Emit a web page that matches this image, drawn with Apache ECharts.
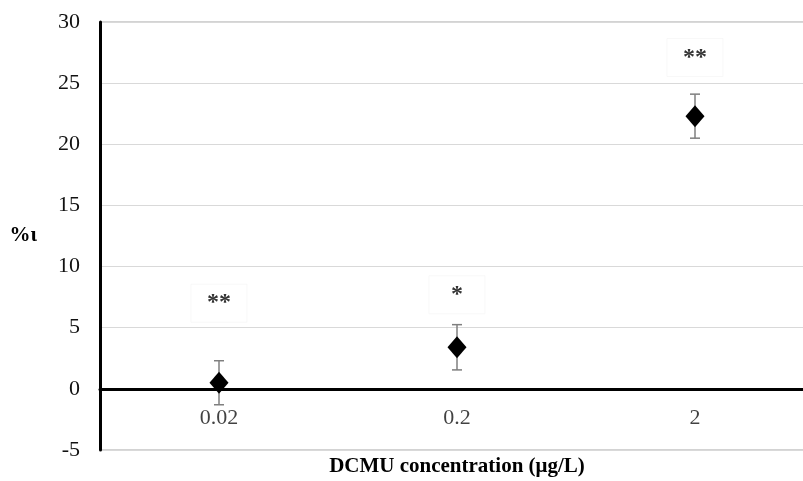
<!DOCTYPE html>
<html>
<head>
<meta charset="utf-8">
<script src="https://cdn.jsdelivr.net/npm/echarts@6/dist/echarts.min.js"></script>
<style>
  html, body { margin: 0; padding: 0; background: #fff; }
  #chart { width: 803px; height: 481px; }
</style>
</head>
<body>
<div id="chart"></div>
<script>
// data
const categories = ['0.02', '0.2', '2']
const means = [0.5, 3.4, 22.3]
const errors = [1.8, 1.85, 1.8]
const stars = ['**', '*', '**']
const starLevels = [7.0, 7.7, 27.1]
const yTicks = { min: -5, max: 30, step: 5 }

const font = '"Liberation Serif", "Times New Roman", serif'

const chart = echarts.init(document.getElementById('chart'))

const option = {
  animation: false,
  backgroundColor: '#fff',
  grid: {
    left: 100, width: 714, top: 22, height: 428,
    outerBoundsMode: 'none',
    containLabel: false,
    show: true, borderColor: '#a6a6a6', borderWidth: 1
  },
  // x axis title sits under the plot
  graphic: [{
    type: 'text',
    x: 457, y: 467,
    style: {
      text: 'DCMU concentration (μg/L)',
      font: 'bold 21px ' + font,
      fill: '#000',
      align: 'center',
      verticalAlign: 'middle'
    }
  }],
  xAxis: {
    type: 'category',
    data: categories,
    boundaryGap: true,
    axisLine: { onZero: true, lineStyle: { color: '#000', width: 3 } },
    axisTick: { show: false },
    axisLabel: { show: false }
  },
  yAxis: {
    type: 'value',
    min: yTicks.min, max: yTicks.max, interval: yTicks.step,
    axisLine: { show: true, onZero: false, lineStyle: { color: '#000', width: 3 } },
    axisTick: { show: false },
    axisLabel: { fontFamily: font, fontSize: 22, color: '#111', margin: 20 },
    splitLine: { lineStyle: { color: '#d9d9d9', width: 1 } },
    name: '%ι',
    nameLocation: 'middle',
    nameRotate: 0,
    nameGap: 63,
    nameTextStyle: { fontFamily: font, fontSize: 21, fontWeight: 'bold', color: '#000' }
  },
  series: [
    {
      // error bars
      type: 'custom',
      z: 2,
      data: means.map((m, i) => [i, m - errors[i], m + errors[i]]),
      renderItem: (params, api) => {
        const lo = api.coord([api.value(0), api.value(1)])
        const hi = api.coord([api.value(0), api.value(2)])
        const w = 5
        const style = { stroke: '#7f7f7f', lineWidth: 1.5 }
        return {
          type: 'group',
          children: [
            { type: 'line', shape: { x1: hi[0], y1: hi[1], x2: lo[0], y2: lo[1] }, style },
            { type: 'line', shape: { x1: hi[0] - w, y1: hi[1], x2: hi[0] + w, y2: hi[1] }, style },
            { type: 'line', shape: { x1: lo[0] - w, y1: lo[1], x2: lo[0] + w, y2: lo[1] }, style }
          ]
        }
      }
    },
    {
      type: 'scatter',
      z: 3,
      symbol: 'diamond',
      symbolSize: [19, 22],
      itemStyle: { color: '#000', opacity: 1 },
      data: means.map((m, i) => [i, m])
    },
    {
      // category labels hang under the zero line
      type: 'scatter',
      z: 4,
      symbol: 'circle',
      symbolSize: 1,
      itemStyle: { color: 'transparent' },
      data: categories.map((c, i) => [i, 0]),
      label: {
        show: true,
        position: 'inside',
        offset: [0, 29],
        formatter: p => categories[p.dataIndex],
        fontFamily: font,
        fontSize: 22,
        color: '#111'
      }
    },
    {
      // significance marks
      type: 'scatter',
      z: 4,
      symbol: 'circle',
      symbolSize: 1,
      itemStyle: { color: 'transparent' },
      data: starLevels.map((v, i) => [i, v]),
      label: {
        show: true,
        position: 'inside',
        formatter: p => stars[p.dataIndex],
        fontFamily: font,
        fontSize: 24,
        fontWeight: 'bold',
        color: '#000',
        width: 56,
        height: 38,
        lineHeight: 38,
        align: 'center',
        verticalAlign: 'middle',
        borderColor: '#f6f6f6',
        borderWidth: 1
      }
    }
  ]
}

chart.setOption(option)
</script>
</body>
</html>
